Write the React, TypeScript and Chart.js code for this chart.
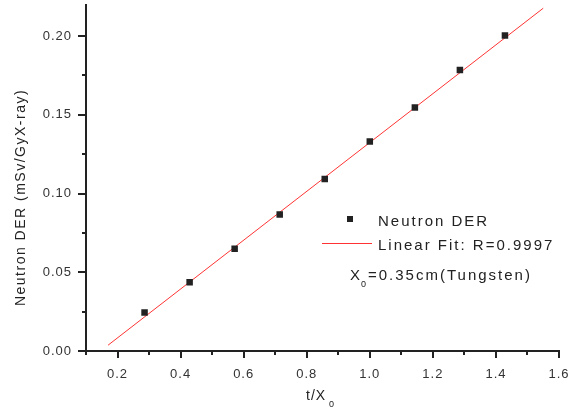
import React, { useEffect, useRef } from "react";
import { Chart, registerables } from "chart.js";

Chart.register(...registerables);

// Data
const thicknessRatio = [0.2857, 0.4286, 0.5714, 0.7143, 0.8571, 1.0, 1.1429, 1.2857, 1.4286];
const neutronDER = [0.0245, 0.0437, 0.065, 0.0867, 0.1093, 0.1331, 0.1546, 0.1785, 0.2004];
const fitX = [0.17, 1.55];
const fitY = [0.0037, 0.2177];
const xTickLabels = [0.2, 0.4, 0.6, 0.8, 1.0, 1.2, 1.4, 1.6];
const yTickLabels = [0.0, 0.05, 0.1, 0.15, 0.2];
const xMinorTicks = [0.1, 0.2, 0.3, 0.4, 0.5, 0.6, 0.7, 0.8, 0.9, 1.0, 1.1, 1.2, 1.3, 1.4, 1.5, 1.6];
const yMinorTicks = [0, 0.025, 0.05, 0.075, 0.1, 0.125, 0.15, 0.175, 0.2];

const seriesLabel = "Neutron DER";
const fitLabel = "Linear Fit: R=0.9997";
const noteMain = "X";
const noteSub = "0";
const noteRest = "=0.35cm(Tungsten)";
const yTitle = "Neutron DER (mSv/GyX-ray)";
const xTitle = "t/X";
const xTitleSub = "0";

const FONT = '"Liberation Sans", Arial, sans-serif';
const INK = "#222";

const decorPlugin = {
  id: "decor",
  beforeDraw(chart: any) {
    (chart.ctx as any).letterSpacing = "1px";
  },
  afterDraw(chart: any) {
    const ctx = chart.ctx as any;
    const xs = chart.scales.x;
    const ys = chart.scales.y;
    const area = chart.chartArea;
    ctx.save();
    // tick marks
    ctx.strokeStyle = INK;
    ctx.lineWidth = 2;
    xMinorTicks.forEach((v, i) => {
      const major = i % 2 === 1;
      const px = Math.round(xs.getPixelForValue(v));
      ctx.beginPath();
      ctx.moveTo(px, area.bottom);
      ctx.lineTo(px, area.bottom + (major ? 7 : 4));
      ctx.stroke();
    });
    yMinorTicks.forEach((v, i) => {
      const major = i % 2 === 0;
      const py = Math.round(ys.getPixelForValue(v));
      ctx.beginPath();
      ctx.moveTo(area.left, py);
      ctx.lineTo(area.left - (major ? 8 : 4), py);
      ctx.stroke();
    });

    ctx.fillStyle = INK;
    // legend
    ctx.fillRect(347, 216, 6, 6);
    ctx.strokeStyle = "#f33";
    ctx.lineWidth = 1;
    ctx.beginPath();
    ctx.moveTo(322, 243.5);
    ctx.lineTo(372, 243.5);
    ctx.stroke();
    ctx.letterSpacing = "2px";
    ctx.font = `15px ${FONT}`;
    ctx.textAlign = "left";
    ctx.textBaseline = "alphabetic";
    ctx.fillText(seriesLabel, 378, 226);
    ctx.fillText(fitLabel, 378, 250);
    ctx.fillText(noteMain, 350, 280);
    ctx.fillText(noteRest, 368, 280);
    ctx.font = `9px ${FONT}`;
    ctx.letterSpacing = "0px";
    ctx.fillText(noteSub, 361, 287);

    // x title
    ctx.font = `14px ${FONT}`;
    ctx.letterSpacing = "1px";
    ctx.fillText(xTitle, 306, 400);
    ctx.font = `9px ${FONT}`;
    ctx.letterSpacing = "0px";
    ctx.fillText(xTitleSub, 329, 407);

    // y title
    ctx.translate(21, 197.5);
    ctx.rotate(-Math.PI / 2);
    ctx.font = `14px ${FONT}`;
    ctx.letterSpacing = "1.5px";
    ctx.textAlign = "center";
    ctx.textBaseline = "middle";
    ctx.fillText(yTitle, 0, 0);
    ctx.restore();
    ctx.letterSpacing = "0px";
  },
};

export default function App() {
  const ref = useRef<HTMLCanvasElement>(null);
  useEffect(() => {
    if (!ref.current) return;
    const chart = new Chart(ref.current, {
      type: "scatter",
      data: {
        datasets: [
          {
            label: fitLabel,
            data: fitX.map((x, i) => ({ x, y: fitY[i] })),
            showLine: true,
            borderColor: "#f33",
            borderWidth: 1,
            pointRadius: 0,
            order: 2,
          },
          {
            label: seriesLabel,
            data: thicknessRatio.map((x, i) => ({ x, y: neutronDER[i] })),
            pointStyle: "rect",
            pointRadius: 4.6,
            backgroundColor: INK,
            borderWidth: 0,
            order: 1,
          },
        ],
      },
      options: {
        responsive: false,
        animation: false,
        layout: { padding: { left: 0, right: 21, top: 4, bottom: 0 } },
        plugins: { legend: { display: false }, tooltip: { enabled: false } },
        scales: {
          x: {
            type: "linear",
            min: 0.1,
            max: 1.6,
            grid: { drawOnChartArea: false, drawTicks: false },
            border: { display: true, color: INK, width: 2 },
            afterBuildTicks: (s: any) => {
              s.ticks = xTickLabels.map((v) => ({ value: v }));
            },
            afterFit: (s: any) => {
              s.height = 67;
              s.paddingLeft = 0;
              s.paddingRight = 0;
            },
            ticks: {
              padding: 16,
              color: "#333",
              font: { family: FONT, size: 13 },
              callback: (v: any) => Number(v).toFixed(1),
              maxRotation: 0,
            },
          },
          y: {
            type: "linear",
            min: 0,
            max: 0.22,
            grid: { drawOnChartArea: false, drawTicks: false },
            border: { display: true, color: INK, width: 2 },
            afterBuildTicks: (s: any) => {
              s.ticks = yTickLabels.map((v) => ({ value: v }));
            },
            afterFit: (s: any) => {
              s.width = 86;
              s.paddingTop = 0;
              s.paddingBottom = 0;
            },
            ticks: {
              padding: 14,
              color: "#333",
              font: { family: FONT, size: 13 },
              callback: (v: any) => Number(v).toFixed(2),
            },
          },
        },
      },
      plugins: [decorPlugin],
    });
    return () => chart.destroy();
  }, []);
  return (
    <div style={{ position: "fixed", left: 0, top: 0, width: 580, height: 418, background: "#fff" }}>
      <canvas ref={ref} width={580} height={418} />
    </div>
  );
}
